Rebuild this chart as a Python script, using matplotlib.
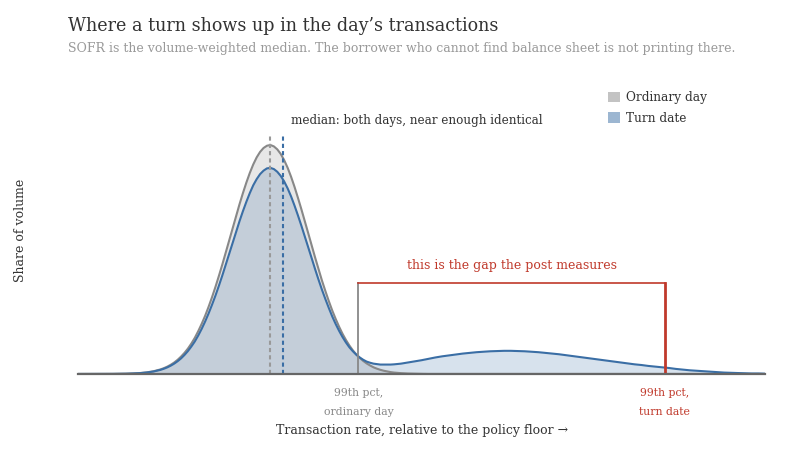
import matplotlib
matplotlib.use("Agg")
import matplotlib.pyplot as plt
from matplotlib.patches import Patch
import numpy as np

plt.rcParams["font.family"] = ["DejaVu Serif", "DejaVu Sans"]

# Rate grid (arbitrary units above the floor): finer where the peak is
rate = np.concatenate([np.arange(0, 12), np.arange(12, 46.5, 0.5), np.arange(47, 101)])

# Share of volume on an ordinary day
ordinary = (
    [0, 0, 0, 0, 0, 0.0003, 0.0006, 0.0011, 0.0022, 0.0039, 0.0069, 0.0119]
    + [0.0198, 0.0253, 0.032, 0.0402, 0.050, 0.0618, 0.076, 0.0922,
       0.111, 0.133, 0.158, 0.187, 0.219, 0.254, 0.293, 0.335,
       0.380, 0.428, 0.478, 0.530, 0.583, 0.636, 0.689, 0.741,
       0.790, 0.836, 0.878, 0.915, 0.946, 0.970, 0.987, 0.997,
       1.000, 0.994, 0.981, 0.961, 0.934, 0.901, 0.862, 0.818,
       0.770, 0.720, 0.668, 0.615, 0.562, 0.509, 0.458, 0.408,
       0.362, 0.318, 0.277, 0.240, 0.206, 0.175, 0.148, 0.124,
       0.103, 0.085, 0.070, 0.057, 0.046, 0.037, 0.029, 0.023,
       0.018, 0.014, 0.011, 0.008, 0.006]
    + [0.0035, 0.0019, 0.001, 0.0005] + [0] * 50)

# Share of volume on the turn date
turn = (
    [0, 0, 0, 0, 0, 0.0003, 0.0005, 0.001, 0.002, 0.0035, 0.0062, 0.0107]
    + [0.0178, 0.0228, 0.0288, 0.0362, 0.045, 0.0556, 0.068, 0.083,
       0.100, 0.120, 0.142, 0.168, 0.197, 0.229, 0.264, 0.302,
       0.342, 0.385, 0.430, 0.477, 0.525, 0.572, 0.620, 0.667,
       0.711, 0.752, 0.790, 0.824, 0.851, 0.873, 0.888, 0.898,
       0.900, 0.895, 0.883, 0.865, 0.841, 0.811, 0.776, 0.736,
       0.693, 0.648, 0.601, 0.554, 0.506, 0.458, 0.412, 0.368,
       0.327, 0.288, 0.251, 0.218, 0.188, 0.161, 0.137, 0.116,
       0.099, 0.084, 0.072, 0.062, 0.054, 0.049, 0.045, 0.043,
       0.041, 0.041, 0.041, 0.041, 0.042]
    + [0.045, 0.050, 0.055, 0.060, 0.066, 0.072, 0.077, 0.081, 0.085, 0.089,
       0.092, 0.095, 0.097, 0.099, 0.100, 0.101, 0.101, 0.100, 0.099, 0.097,
       0.095, 0.092, 0.089, 0.086, 0.082, 0.078, 0.074, 0.070, 0.066, 0.062,
       0.058, 0.054, 0.050, 0.046, 0.042, 0.039, 0.035, 0.032, 0.029, 0.026,
       0.022, 0.019, 0.016, 0.014, 0.012, 0.010, 0.008, 0.006, 0.005, 0.004,
       0.003, 0.002, 0.002, 0.001])

median_ordinary = 27.9
median_turn = 29.8
median_top = 1.05
p99_ordinary = 40.8
p99_turn = 85.4
gap_height = 0.397

GRAY = "#888888"
BLUE = "#3a6ea5"
RED = "#c0392b"

fig = plt.figure(figsize=(8, 4.5), dpi=100)
ax = fig.add_axes([0.0975, 0.169, 0.859, 0.64])

# Filled densities
ax.fill_between(rate, ordinary, color=GRAY, alpha=0.2, lw=0)
ax.fill_between(rate, turn, color=BLUE, alpha=0.2, lw=0)
ax.plot(rate, ordinary, color=GRAY, lw=1.5)
ax.plot(rate, turn, color=BLUE, lw=1.5)

# Medians
ax.plot([median_ordinary, median_ordinary], [0, median_top], color="#999999",
        lw=1.5, dashes=(2, 1.5))
ax.plot([median_turn, median_turn], [0, median_top], color=BLUE,
        lw=1.5, dashes=(2, 1.5))
ax.text(median_turn + 1.2, 1.109, "median: both days, near enough identical",
        fontsize=8.6, color="#333333", va="center", ha="left")

# Gap bracket between the two 99th percentiles
ax.plot([p99_ordinary, p99_ordinary], [0, gap_height], color=GRAY, lw=1.3)
ax.plot([p99_ordinary, p99_turn], [gap_height, gap_height], color=RED, lw=1.2)
ax.plot([p99_turn, p99_turn], [0, gap_height], color=RED, lw=2)
ax.text((p99_ordinary + p99_turn) / 2, 0.472, "this is the gap the post measures",
        fontsize=9, color=RED, ha="center", va="center")

ax.set_xlim(0, 100)
ax.set_ylim(0, 1.258)

ax.set_xticks([p99_ordinary, p99_turn])
ax.set_xticklabels(["99th pct,\nordinary day", "99th pct,\nturn date"],
                   fontsize=7.8, linespacing=2.2)
ax.get_xticklabels()[0].set_color(GRAY)
ax.get_xticklabels()[1].set_color(RED)
ax.tick_params(axis="x", length=0, pad=10)
ax.set_yticks([])

for s in ["top", "right", "left"]:
    ax.spines[s].set_visible(False)
ax.spines["bottom"].set_color("#666666")
ax.spines["bottom"].set_linewidth(1.6)

ax.set_xlabel("Transaction rate, relative to the policy floor \u2192",
              fontsize=9, color="#333333", labelpad=5)
ax.set_ylabel("Share of volume", fontsize=9, color="#333333", labelpad=37)

handles = [Patch(facecolor=GRAY, alpha=0.5, label="Ordinary day"),
           Patch(facecolor=BLUE, alpha=0.5, label="Turn date")]
ax.legend(handles=handles, loc="upper left", bbox_to_anchor=(0.755, 1.02),
          frameon=False, fontsize=8.7, handlelength=1.0, handleheight=1.0,
          handletextpad=0.5, labelspacing=0.65, labelcolor="#333333")

fig.text(0.085, 0.942, "Where a turn shows up in the day\u2019s transactions",
         fontsize=12.65, color="#333333", va="center", ha="left")
fig.text(0.085, 0.893, "SOFR is the volume-weighted median. The borrower who cannot "
         "find balance sheet is not printing there.",
         fontsize=9, color="#999999", va="center", ha="left")

fig.savefig("out.png", dpi=100)
